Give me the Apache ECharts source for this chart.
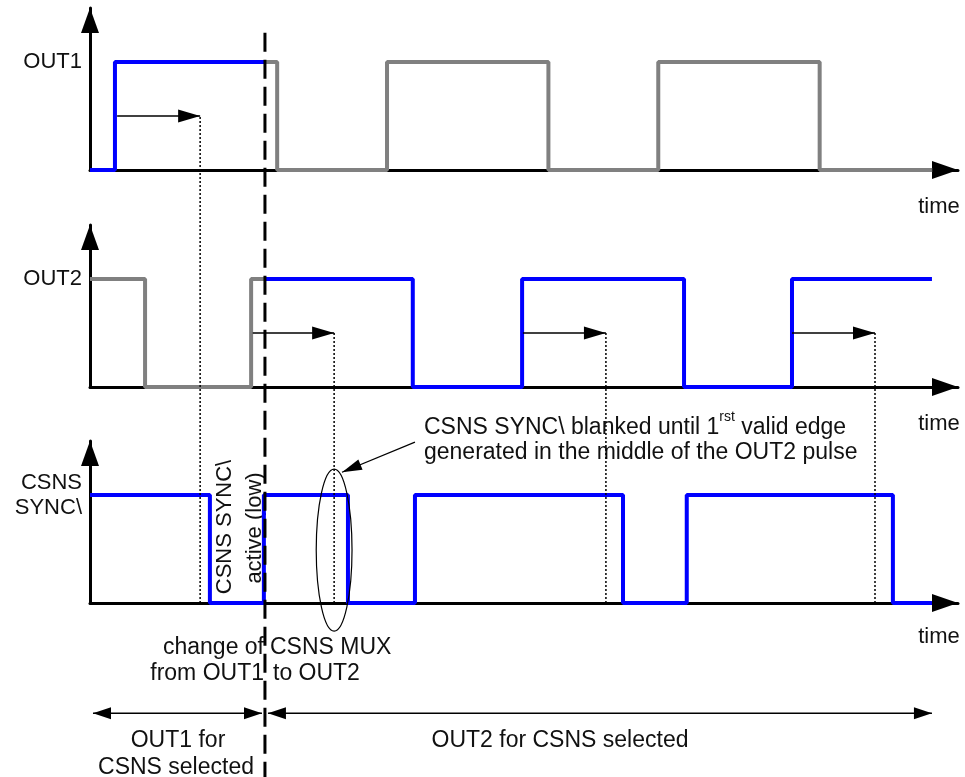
<!DOCTYPE html>
<html>
<head>
<meta charset="utf-8">
<script src="https://cdn.jsdelivr.net/npm/echarts@6/dist/echarts.min.js"></script>
<style>html,body{margin:0;background:#fff}#chart{width:965px;height:777px}</style>
</head>
<body>
<div id="chart"></div>
<script>
// time unit: one OUT period = 10, level 1 = high
const X_MAX = 32
const Y_MAX = 1.5
const MUX_T = 6.45 // CSNS MUX switches from OUT1 to OUT2

// step points [t, level]
const out1Blue = [[0, 0], [0.92, 1], [6.45, 1]]
const out1Gray = [[6.45, 1], [6.9, 0], [10.95, 1], [16.9, 0], [20.95, 1], [26.9, 0], [31.05, 0]]
const out2Gray = [[0, 1], [2.03, 0], [5.94, 1], [6.45, 1]]
const out2Blue = [[6.45, 1], [11.9, 0], [15.93, 1], [21.9, 0], [25.88, 1], [31.04, 1]]
const csnsBlue = [[0, 1], [4.42, 0], [6.41, 1], [9.51, 0], [11.98, 1], [19.65, 0], [22.0, 1], [29.6, 0], [31.04, 0]]

// blanking delay arrows [from, to], drawn at level 0.5
const out1Delay = [[1.0, 4.06]]
const out2Delay = [[6.0, 9.0], [15.96, 19.02], [25.88, 28.94]]
// dotted drops [t, top level], in CSNS levels (OUT2 panel = +2, OUT1 panel = +4)
const drops = [[4.06, 4.5], [9.0, 2.5], [19.02, 2.5], [28.94, 2.5]]
// selection spans below the CSNS axis
const spans = [[0.11, 6.34], [6.56, 31.04]]
const spanLevel = -1.02
const muxSpan = [5.28, -1.7]
// ellipse round the blanked edge: [t, level, half t, half level]
const ring = [9.0, 0.49, 0.66, 0.75]
const pointer = [[11.98, 1.49], [9.29, 1.21]]

const yNames = ['OUT1', 'OUT2', 'CSNS\nSYNC\\']
const gridTops = [8, 225, 441]

const FONT = '"Liberation Sans", Arial, sans-serif'
const BLUE = '#0000ff'
const GRAY = '#808080'
const INK = '#111'

const chart = echarts.init(document.getElementById('chart'))

const grids = gridTops.map(t => ({ left: 90, top: t, width: 868, height: 162, outerBoundsMode: 'none' }))
const xAxes = gridTops.map((t, i) => ({
  type: 'value', gridIndex: i, min: 0, max: X_MAX,
  axisLine: { show: true, onZero: false, symbol: ['none', 'triangle'], symbolSize: [18, 26], symbolOffset: [0, -13], lineStyle: { color: '#000', width: 3 } },
  axisTick: { show: false }, axisLabel: { show: false }, splitLine: { show: false }
}))
const yAxes = yNames.map((n, i) => ({
  type: 'value', gridIndex: i, min: 0, max: Y_MAX, interval: 0.5,
  axisLine: { show: true, onZero: false, symbol: ['none', 'triangle'], symbolSize: [18, 25], symbolOffset: [0, -12.5], lineStyle: { color: '#000', width: 3 } },
  axisTick: { show: false }, splitLine: { show: false },
  axisLabel: { margin: 8, color: INK, fontSize: 22, fontFamily: FONT, lineHeight: 25, formatter: v => (v === 1 ? n : '') }
}))

const base = { type: 'line', silent: true, animation: false, clip: false, showSymbol: false, symbol: 'none' }

const wave = (data, g, color, z) => Object.assign({}, base, {
  xAxisIndex: g, yAxisIndex: g, data, step: 'end', z,
  lineStyle: { color, width: 4 }
})

const head = (dir, size) => ({
  symbol: 'triangle', symbolSize: size,
  symbolRotate: dir === 'right' ? -90 : 90,
  symbolOffset: [dir === 'right' ? -size[1] / 2 : size[1] / 2, 0]
})

const arrow = (g, a, b, y, both, size) => Object.assign({}, base, {
  xAxisIndex: g, yAxisIndex: g, showSymbol: true, z: 5,
  lineStyle: { color: '#000', width: 1.5 }, itemStyle: { color: '#000' },
  data: [
    Object.assign({ value: [a, y] }, both ? head('left', size) : { symbol: 'none' }),
    Object.assign({ value: [b, y] }, head('right', size))
  ]
})

const series = [
  wave(out1Gray, 0, GRAY, 3), wave(out1Blue, 0, BLUE, 4),
  wave(out2Gray, 1, GRAY, 3), wave(out2Blue, 1, BLUE, 4),
  wave(csnsBlue, 2, BLUE, 4)
]
out1Delay.forEach(d => series.push(arrow(0, d[0], d[1], 0.5, false, [13, 22])))
out2Delay.forEach(d => series.push(arrow(1, d[0], d[1], 0.5, false, [13, 22])))
spans.forEach(d => series.push(arrow(2, d[0], d[1], spanLevel, true, [12, 18])))
drops.forEach(d => series.push(Object.assign({}, base, {
  xAxisIndex: 2, yAxisIndex: 2, z: 5,
  data: [[d[0], d[1]], [d[0], 0]],
  lineStyle: { color: '#000', width: 1.5, type: [2, 2] }
})))
series.push(Object.assign({}, base, {
  xAxisIndex: 2, yAxisIndex: 2, z: 6,
  data: [[MUX_T, muxSpan[0]], [MUX_T, muxSpan[1]]],
  lineStyle: { color: '#000', width: 3, type: [19, 8] },
  markLine: {
    silent: true, animation: false,
    symbol: ['none', 'triangle'], symbolSize: 10,
    label: { show: false }, emphasis: { disabled: true },
    itemStyle: { color: '#000' },
    lineStyle: { color: '#000', width: 1.2, type: 'solid' },
    data: [[
      { coord: pointer[0] },
      { coord: pointer[1], symbolSize: [11, 20], symbolOffset: [0, 10] }
    ]]
  }
}))

const txt = (text, x, y, align, size, extra) => Object.assign({
  type: 'text', x, y, silent: true,
  style: { text, fill: INK, fontSize: size, fontFamily: FONT, align, verticalAlign: 'middle' }
}, extra || {})

const texts = [
  txt('time', 939, 207, 'center', 22),
  txt('time', 939, 424, 'center', 22),
  txt('time', 939, 637, 'center', 22),
  {
    type: 'text', x: 424, y: 428, silent: true,
    style: {
      text: '{a|CSNS SYNC\\ blanked until 1}{s|rst}{a| valid edge}', align: 'left', verticalAlign: 'middle',
      fill: INK, fontFamily: FONT, fontSize: 23,
      rich: { a: { fontSize: 23, fontFamily: FONT, fill: INK }, s: { fontSize: 14, fontFamily: FONT, fill: INK, padding: [0, 0, 22, 0] } }
    }
  },
  txt('generated in the middle of the OUT2 pulse', 424, 453, 'left', 23),
  txt('change of', 264, 648, 'right', 23),
  txt('CSNS MUX', 270, 648, 'left', 23),
  txt('from OUT1', 264, 674, 'right', 23),
  txt('to OUT2', 273, 674, 'left', 23),
  txt('OUT1 for', 178, 741, 'center', 23),
  txt('CSNS selected', 176, 768, 'center', 23),
  txt('OUT2 for CSNS selected', 560, 741, 'center', 23),
  txt('CSNS SYNC\\', 225, 527, 'center', 22, { rotation: Math.PI / 2 }),
  txt('active (low)', 255, 528, 'center', 22, { rotation: Math.PI / 2 })
]

chart.setOption({
  backgroundColor: '#fff',
  animation: false,
  grid: grids, xAxis: xAxes, yAxis: yAxes,
  series
})

const c = chart.convertToPixel({ gridIndex: 2 }, [ring[0], ring[1]])
const e = chart.convertToPixel({ gridIndex: 2 }, [ring[0] + ring[2], ring[1] + ring[3]])
texts.push({
  type: 'ellipse', silent: true, z: 7,
  shape: { cx: c[0], cy: c[1], rx: Math.abs(e[0] - c[0]), ry: Math.abs(c[1] - e[1]) },
  style: { fill: 'none', stroke: '#000', lineWidth: 1.2 }
})
chart.setOption({ graphic: texts })
</script>
</body>
</html>
